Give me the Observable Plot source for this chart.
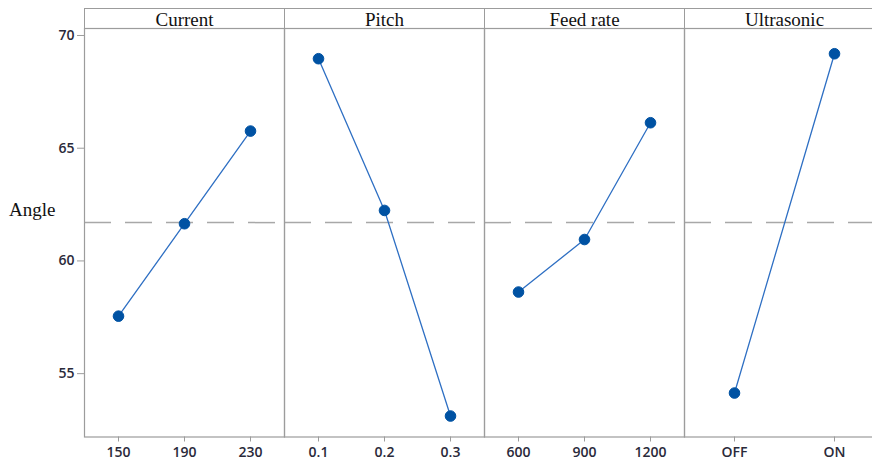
<!DOCTYPE html>
<html><head><meta charset="utf-8">
<script src="https://cdn.jsdelivr.net/npm/d3@7"></script>
<script src="https://cdn.jsdelivr.net/npm/@observablehq/plot@0.6"></script>
<style>
body{margin:0;overflow:hidden;background:#fff}
#wrap{position:relative;width:884px;height:463px;overflow:hidden}
.panel{position:absolute;top:0}
.strip{position:absolute;top:8px;height:20px;box-sizing:border-box;border:1px solid #9c9c9c;border-bottom:none;font-family:"Liberation Serif",serif;font-size:19px;line-height:21px;text-align:center;color:#111;white-space:nowrap}
.ylab{position:absolute;left:9px;top:199px;font-family:"Liberation Serif",serif;font-size:19px;line-height:21px;color:#111}
</style>
</head><body>
<div id="wrap"></div>
<script>
// ---- data ----
const factors = ["Current", "Pitch", "Feed rate", "Ultrasonic"];
const currentLevels = ["150", "190", "230"];
const currentMeans = [57.55, 61.65, 65.76];
const pitchLevels = ["0.1", "0.2", "0.3"];
const pitchMeans = [68.97, 62.24, 53.12];
const feedLevels = ["600", "900", "1200"];
const feedMeans = [58.62, 60.95, 66.13];
const ultraLevels = ["OFF", "ON"];
const ultraMeans = [54.14, 69.19];
const yTicks = [55, 60, 65, 70];
const grandMean = 61.7;
const yLabel = "Angle";

const groups = [
  [currentLevels, currentMeans],
  [pitchLevels, pitchMeans],
  [feedLevels, feedMeans],
  [ultraLevels, ultraMeans]
];

const wrap = document.getElementById("wrap");
const H = 463, MT = 28, MB = 26.5, PW = 200, ML = 84;
const frameColor = "#9c9c9c";

groups.forEach(([levels, means], i) => {
  const data = levels.map((l, j) => ({level: l, mean: means[j]}));
  const first = i === 0;
  const chart = Plot.plot({
    width: first ? PW + ML : PW,
    height: H,
    marginTop: MT,
    marginBottom: MB,
    marginLeft: first ? ML : 0,
    marginRight: 0,
    style: {fontFamily: "'Open Sans', sans-serif", background: "transparent", overflow: "visible"},
    x: {type: "point", domain: levels, padding: 0.5, axis: null},
    y: {domain: [52.19, 70.31], axis: null},
    marks: [
      Plot.ruleY([grandMean], {stroke: "#a8a8a8", strokeWidth: 1.5, strokeDasharray: "27,14"}),
      Plot.line(data, {x: "level", y: "mean", stroke: "#2e6fc3", strokeWidth: 1.3}),
      Plot.dot(data, {x: "level", y: "mean", r: 5.3, fill: "#0052a3", stroke: "#0052a3", strokeWidth: 1}),
      Plot.axisX({label: null, tickSize: 5, tickPadding: 5, stroke: frameColor, fill: "#2a2a3a", fontSize: 14, fontWeight: 600}),
      first ? Plot.axisY({label: null, ticks: yTicks, tickSize: 7, tickPadding: 3, stroke: frameColor, fill: "#2a2a3a", fontSize: 14, fontWeight: 600}) : null,
      Plot.frame({stroke: frameColor, strokeWidth: 1.2})
    ]
  });
  chart.classList.add("panel");
  chart.style.left = (first ? 0 : ML + PW * i) + "px";
  wrap.appendChild(chart);

  const strip = document.createElement("div");
  strip.className = "strip";
  strip.style.left = (ML + PW * i) + "px";
  strip.style.width = (PW + 1) + "px";
  strip.textContent = factors[i];
  wrap.appendChild(strip);
});

const yl = document.createElement("div");
yl.className = "ylab";
yl.textContent = yLabel;
wrap.appendChild(yl);
</script>
</body></html>
